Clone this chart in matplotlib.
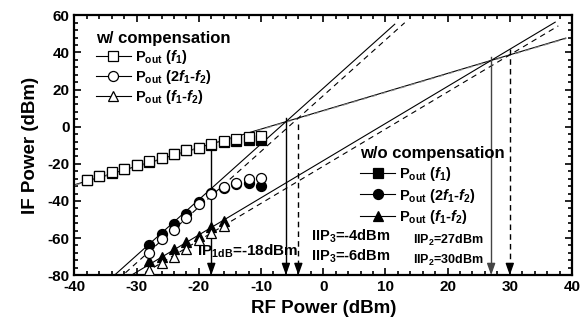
import matplotlib
matplotlib.use('Agg')
import matplotlib.pyplot as plt
from matplotlib.lines import Line2D
import numpy as np

plt.rcParams['font.family'] = ['Liberation Sans', 'DejaVu Sans']
plt.rcParams['font.weight'] = 'bold'
plt.rcParams['axes.unicode_minus'] = False
plt.rcParams['mathtext.fontset'] = 'custom'
plt.rcParams['mathtext.rm'] = 'Liberation Sans:bold'
plt.rcParams['mathtext.it'] = 'Liberation Sans:bold:italic'
plt.rcParams['mathtext.bf'] = 'Liberation Sans:bold'

# ---------------- data ----------------
rf_fund = [-38, -36, -34, -32, -30, -28, -26, -24, -22, -20, -18, -16, -14, -12, -10]
fund_comp = [-28.8, -26.6, -24.6, -22.8, -20.6, -18.7, -16.7, -14.5, -12.7, -11.3, -9.3, -7.5, -6.6, -5.7, -4.8]
fund_nocomp = [-28.9, -26.7, -24.7, -22.9, -20.7, -18.8, -16.8, -14.6, -12.8, -11.5, -9.6, -8.4, -7.9, -7.2, -7.1]

rf_im3 = [-28, -26, -24, -22, -20, -18, -16, -14, -12, -10]
im3_comp = [-68.2, -60.7, -55.7, -49.4, -41.8, -36.4, -32.7, -30.2, -28.4, -27.8]
im3_nocomp = [-63.7, -57.8, -52.4, -47.0, -40.7, -35.5, -33.2, -30.8, -30.5, -32.0]

rf_im2 = [-28, -26, -24, -22, -20, -18, -16]
im2_comp = [-77.2, -73.6, -70.0, -65.9, -61.0, -57.4, -53.5]
im2_nocomp = [-72.6, -70.0, -65.9, -62.0, -58.9, -54.2, -50.6]

gain = 8.7            # small-signal conversion gain (dB)
ip1db = -18
iip3 = [-6, -4]       # [w/o compensation, w/ compensation]
iip2 = [27, 30]       # [w/o compensation, w/ compensation]
fund_x_range = [-40, 39]
im3_x_range = [[-34, 11.5], [-33, 13.1]]
im2_x_range = [[-31, 37.3], [-30, 37.8]]

labels_comp = ['P$_{\\mathrm{out}}$ ($f$$_{\\mathrm{1}}$)',
               'P$_{\\mathrm{out}}$ (2$f$$_{\\mathrm{1}}$-$f$$_{\\mathrm{2}}$)',
               'P$_{\\mathrm{out}}$ ($f$$_{\\mathrm{1}}$-$f$$_{\\mathrm{2}}$)']

# ---------------- figure ----------------
fig = plt.figure(figsize=(5.8, 3.31), dpi=100)
ax = fig.add_axes([0.1284, 0.1686, 0.8578, 0.7852])

lw_fit = 0.8
dash = (5, 4)

# fundamental fits (solid w/o, dashed w/)
xf = np.array(fund_x_range, dtype=float)
ax.plot(xf, xf + gain, color='k', lw=lw_fit, zorder=2)
ax.plot(xf, xf + gain - 0.3, color='#888888', lw=lw_fit, dashes=dash, zorder=2)

# IM3 fits
for i, ls in enumerate(['-', '--']):
    x = np.array(im3_x_range[i])
    y = 3 * x + gain - 2 * iip3[i]
    if ls == '-':
        ax.plot(x, y, color='k', lw=lw_fit, zorder=2)
    else:
        ax.plot(x, y, color='k', lw=lw_fit, dashes=dash, zorder=2)

# IM2 fits
for i, ls in enumerate(['-', '--']):
    x = np.array(im2_x_range[i])
    y = 2 * x + gain - iip2[i]
    if ls == '-':
        ax.plot(x, y, color='k', lw=lw_fit, zorder=2)
    else:
        ax.plot(x, y, color='k', lw=lw_fit, dashes=dash, zorder=2)

# arrows
def varrow(x, ystart, dashed=False, color='k'):
    if dashed:
        ax.plot([x, x], [ystart, -77], color=color, lw=1.0, dashes=(4, 3), zorder=2)
    else:
        ax.plot([x, x], [ystart, -77], color=color, lw=1.0, zorder=2)
    ax.annotate('', xy=(x, -80), xytext=(x, -76.5),
                arrowprops=dict(arrowstyle='-|>,head_length=0.7,head_width=0.25',
                                color=color, lw=1.0, shrinkA=0, shrinkB=0), zorder=3)

varrow(ip1db, ip1db + gain - 0.3)
varrow(iip3[0], iip3[0] + gain + 2)
varrow(iip3[1], iip3[1] + gain - 3, dashed=True)
varrow(iip2[0], iip2[0] + gain + 2, color='#444444')
varrow(iip2[1], iip2[1] + gain + 3, dashed=True)

# data markers
ms_sq, ms_c, ms_t = 7.0, 7.2, 7.2
mew = 0.9
ax.plot(rf_fund, fund_nocomp, 's', ms=ms_sq, mfc='k', mec='k', mew=mew, zorder=4)
ax.plot(rf_fund, fund_comp, 's', ms=ms_sq, mfc='white', mec='k', mew=mew, zorder=5)
ax.plot(rf_im3, im3_nocomp, 'o', ms=ms_c, mfc='k', mec='k', mew=mew, zorder=4)
ax.plot(rf_im3, im3_comp, 'o', ms=ms_c, mfc='white', mec='k', mew=mew, zorder=5)
ax.plot(rf_im2, im2_nocomp, '^', ms=ms_t, mfc='k', mec='k', mew=mew, zorder=4)
ax.plot(rf_im2, im2_comp, '^', ms=ms_t, mfc='white', mec='k', mew=mew, zorder=5)

# annotations
ax.text(-20.3, -67.0, 'IP$_{\\mathrm{1dB}}$=-18dBm', fontsize=11, fontweight='bold', va='center', ha='left', zorder=6)
ax.text(-1.9, -59.3, 'IIP$_{\\mathrm{3}}$=-4dBm', fontsize=10.5, fontweight='bold', va='center', ha='left')
ax.text(-1.9, -69.7, 'IIP$_{\\mathrm{3}}$=-6dBm', fontsize=10.5, fontweight='bold', va='center', ha='left')
ax.text(14.4, -61.4, 'IIP$_{\\mathrm{2}}$=27dBm', fontsize=9, fontweight='bold', va='center', ha='left')
ax.text(14.4, -72.2, 'IIP$_{\\mathrm{2}}$=30dBm', fontsize=9, fontweight='bold', va='center', ha='left')

# legends
h_comp = [Line2D([], [], color='k', lw=0.8, marker=m, ms=s, mfc='white', mec='k', mew=mew)
          for m, s in zip(['s', 'o', '^'], [ms_sq, ms_c, ms_t])]
h_nocomp = [Line2D([], [], color='k', lw=0.8, marker=m, ms=s, mfc='k', mec='k', mew=mew)
            for m, s in zip(['s', 'o', '^'], [ms_sq, ms_c, ms_t])]

leg_kw = dict(frameon=False, fontsize=10.5, title_fontsize=12, handlelength=2.4,
              handletextpad=0.25, borderpad=0, borderaxespad=0,
              alignment='left', loc='upper left')
leg1 = ax.legend(h_comp, labels_comp, title='w/ compensation', labelspacing=0.15,
                 bbox_to_anchor=(0.043, 0.94), **leg_kw)
leg1.get_title().set_fontweight('bold')
ax.add_artist(leg1)
leg2 = ax.legend(h_nocomp, labels_comp, title='w/o compensation', labelspacing=0.25,
                 bbox_to_anchor=(0.574, 0.496), **leg_kw)
leg2.get_title().set_fontweight('bold')

# axes styling
ax.set_xlim(-40, 40)
ax.set_ylim(-80, 60)
ax.set_xticks(np.arange(-40, 41, 10))
ax.set_yticks(np.arange(-80, 61, 20))
ax.set_xticks(np.arange(-40, 41, 2), minor=True)
ax.set_yticks(np.arange(-80, 61, 4), minor=True)
ax.tick_params(which='both', direction='in', top=True, right=True, width=1.2, labelsize=11)
ax.tick_params(which='major', length=5)
ax.tick_params(which='minor', length=3)
for t in ax.get_xticklabels() + ax.get_yticklabels():
    t.set_fontweight('bold')
for s in ax.spines.values():
    s.set_linewidth(1.6)
ax.set_xlabel('RF Power (dBm)', fontsize=13.5, fontweight='bold', labelpad=4)
ax.set_ylabel('IF Power (dBm)', fontsize=13.5, fontweight='bold', labelpad=6)

fig.savefig('out.png', dpi=100)
